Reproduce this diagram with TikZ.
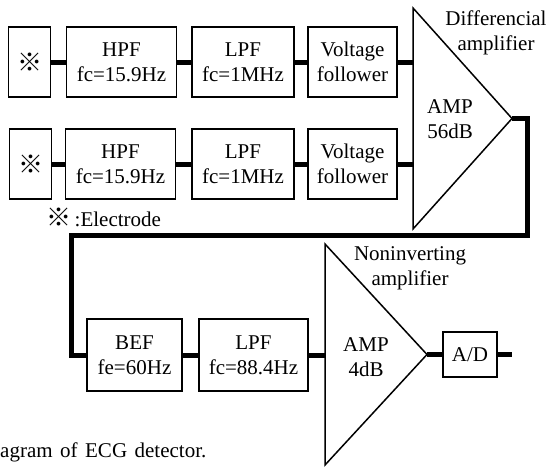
\documentclass[tikz,border=0pt]{standalone}
\usepackage{fontspec}
\setmainfont{Liberation Serif}
\newfontfamily\cjk{Noto Sans CJK JP}
\newcommand{\elmark}{{\cjk\fontsize{25}{25}\selectfont ※}}
\begin{document}
\begin{tikzpicture}[x=1pt, y=-1pt,
    every node/.style={font=\fontsize{21}{25}\selectfont},
    blk/.style={draw, line width=1.5pt, align=center, inner sep=0pt, minimum height=70pt},
    amp/.style={line width=1.5pt, line join=miter},
    wire/.style={line width=5pt, line join=miter},
    txt/.style={align=center, inner sep=0pt}]
    \useasboundingbox (0,0) rectangle (548,466);

    % Kanal 1
    \node [blk, minimum width=42pt]  (el1)  at (29.5,62)  {\elmark};
    \node [blk, minimum width=110pt] (hpf1) at (121.5,62) {HPF\\fc=15.9Hz};
    \node [blk, minimum width=102pt] (lpf1) at (243,62)   {LPF\\fc=1MHz};
    \node [blk, minimum width=89pt]  (vf1)  at (352.5,62) {Voltage\\follower};

    % Kanal 2
    \node [blk, minimum width=42pt]  (el2)  at (30.5,164)  {\elmark};
    \node [blk, minimum width=110pt] (hpf2) at (120.5,164) {HPF\\fc=15.9Hz};
    \node [blk, minimum width=102pt] (lpf2) at (243,164)   {LPF\\fc=1MHz};
    \node [blk, minimum width=89pt]  (vf2)  at (352.5,164) {Voltage\\follower};

    \node [txt, anchor=west] (key) at (46,217) {\elmark\,:Electrode};

    % Amplificador diferencial
    \coordinate (a1tl) at (413,8);
    \coordinate (a1bl) at (413,229);
    \coordinate (a1ap) at (512,118.5);
    \coordinate (a1in1) at (413,62);
    \coordinate (a1in2) at (413,164);
    \draw [amp] (a1tl) -- (a1bl) -- (a1ap) -- cycle;
    \node [txt] (amp1) at (450,119) {AMP\\56dB};
    \node [txt] (dif) at (496,33) {Differencial\\amplifier};

    \draw [wire] (el1) -- (hpf1);
    \draw [wire] (hpf1) -- (lpf1);
    \draw [wire] (lpf1) -- (vf1);
    \draw [wire] (vf1) -- (a1in1);
    \draw [wire] (el2) -- (hpf2);
    \draw [wire] (hpf2) -- (lpf2);
    \draw [wire] (lpf2) -- (vf2);
    \draw [wire] (vf2) -- (a1in2);

    % Filtros
    \node [blk, minimum width=95pt, minimum height=72pt]  (bef)  at (134.5,355) {BEF\\fe=60Hz};
    \node [blk, minimum width=109pt, minimum height=72pt] (lpf3) at (253.5,355) {LPF\\fc=88.4Hz};

    % Retorno
    \coordinate (turn) at (527,235);
    \coordinate (back) at (71,235);
    \draw [wire] (a1ap) -| (turn) -- (back) |- (bef);
    \draw [wire] (bef) -- (lpf3);

    % Amplificador nao inversor
    \coordinate (a2tl) at (325,244);
    \coordinate (a2bl) at (325,465);
    \coordinate (a2ap) at (427,354.5);
    \coordinate (a2in) at (325,355);
    \draw [amp] (a2tl) -- (a2bl) -- (a2ap) -- cycle;
    \node [txt] (amp2) at (366,357) {AMP\\4dB};
    \node [txt] (noninv) at (410,268) {Noninverting\\amplifier};
    \draw [wire] (lpf3) -- (a2in);

    % A/D
    \node [blk, minimum width=54pt, minimum height=45pt] (ad) at (470,354.5) {A/D};
    \coordinate (out) at (512,354.5);
    \draw [wire] (a2ap) -- (ad);
    \draw [wire] (ad) -- (out);

    \node [txt, anchor=base west] (cap) at (0,457) {agram\hspace{7.5pt}of\hspace{7.5pt}ECG\hspace{7.5pt}detector.};
\end{tikzpicture}
\end{document}
